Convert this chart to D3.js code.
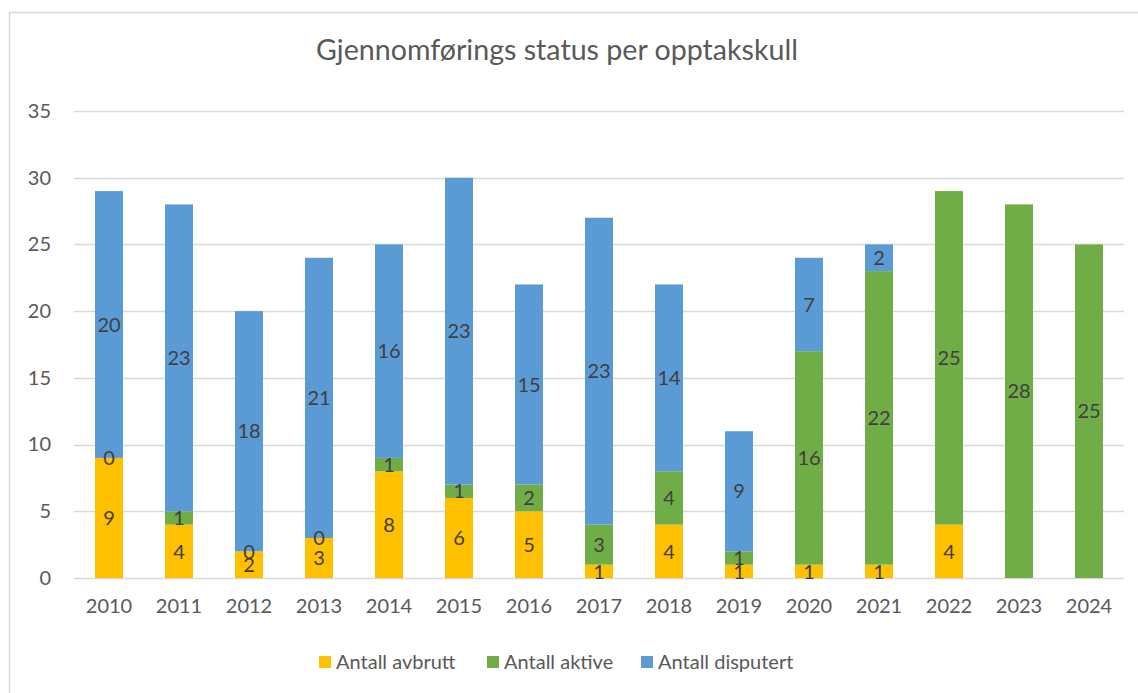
<!DOCTYPE html>
<html><head><meta charset="utf-8">
<script src="https://cdn.jsdelivr.net/npm/d3@7"></script>
<style>body{margin:0;background:#fff;}svg{display:block;font-family:Lato, "Liberation Sans", sans-serif;}</style>
</head><body><svg id="c" width="1138" height="693"></svg>
<script>
const years = ["2010","2011","2012","2013","2014","2015","2016","2017","2018","2019","2020","2021","2022","2023","2024"];
const avbrutt = [9,4,2,3,8,6,5,1,4,1,1,1,4,null,null];
const aktive = [0,1,0,0,1,1,2,3,4,1,16,22,25,28,25];
const disputert = [20,23,18,21,16,23,15,23,14,9,7,2,null,null,null];
const seriesNames = ["Antall avbrutt","Antall aktive","Antall disputert"];
const colors = ["#FFC000","#70AD47","#5B9BD5"];
const yTicks = [0,5,10,15,20,25,30,35];
const title = "Gjennomførings status per opptakskull";

const svg = d3.select("#c");
svg.append("rect").attr("x",9.5).attr("y",12.5).attr("width",1140).attr("height",700)
  .attr("fill","none").attr("stroke","#d9d9d9").attr("stroke-width",1.5);

const x = d3.scaleBand().domain(years).range([74,1124]).paddingInner(0.6).paddingOuter(0.3);
const y = d3.scaleLinear().domain([0,35]).range([578,111]);

svg.append("text").attr("x",557).attr("y",60).attr("text-anchor","middle")
  .attr("font-size",28.6).attr("fill","#595959").text(title);

const grid = svg.append("g");
yTicks.forEach(t=>{
  grid.append("line").attr("x1",74).attr("x2",1124).attr("y1",Math.round(y(t))+0.5).attr("y2",Math.round(y(t))+0.5)
    .attr("stroke","#d9d9d9").attr("stroke-width",1.3);
});
const yAxis = d3.axisLeft(y).tickValues(yTicks).tickSize(0).tickPadding(0);
const ga = svg.append("g").attr("transform","translate(51,0)").call(yAxis);
ga.select(".domain").remove();
ga.selectAll("text").attr("font-size",20).attr("fill","#595959").attr("font-family","Lato, sans-serif").attr("text-anchor","end");

const xAxis = d3.axisBottom(x).tickSize(0).tickPadding(0);
const gx = svg.append("g").attr("transform","translate(0,599)").call(xAxis);
gx.select(".domain").remove();
gx.selectAll("text").attr("font-size",20).attr("fill","#595959").attr("font-family","Lato, sans-serif");

const rows = years.map((yr,i)=>({year:yr, s0:avbrutt[i], s1:aktive[i], s2:disputert[i]}));
const stack = d3.stack().keys(["s0","s1","s2"]).value((d,k)=>d[k]||0);
const stacked = stack(rows);
const raw = [avbrutt, aktive, disputert];

stacked.forEach((layer,si)=>{
  const g = svg.append("g");
  g.selectAll("rect").data(layer).enter().append("rect")
    .attr("x",d=>x(d.data.year)).attr("width",x.bandwidth())
    .attr("y",d=>y(d[1])).attr("height",d=>y(d[0])-y(d[1]))
    .attr("fill",colors[si]);
});
stacked.forEach((layer,si)=>{
  const g = svg.append("g");
  layer.forEach((d,i)=>{
    const v = raw[si][i];
    if(v===null) return;
    g.append("text").attr("x",x(d.data.year)+x.bandwidth()/2).attr("y",(y(d[0])+y(d[1]))/2)
      .attr("dy","0.36em").attr("text-anchor","middle").attr("font-size",20).attr("fill","#404040").text(v);
  });
});

const leg = svg.append("g");
const legX = [319,487,641];
seriesNames.forEach((n,i)=>{
  leg.append("rect").attr("x",legX[i]).attr("y",656).attr("width",12).attr("height",12).attr("fill",colors[i]);
  leg.append("text").attr("x",legX[i]+17).attr("y",662).attr("dy","0.36em").attr("font-size",20).attr("fill","#595959").text(n);
});
</script></body></html>
